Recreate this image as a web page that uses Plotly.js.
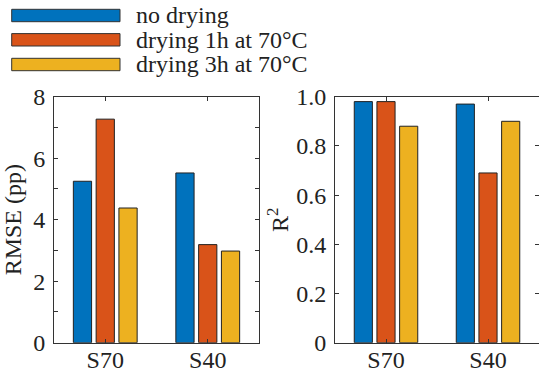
<!DOCTYPE html>
<html>
<head>
<meta charset="utf-8">
<script src="https://cdn.plot.ly/plotly-3.0.1.min.js"></script>
<style>html,body{margin:0;padding:0;background:#fff;}#chart{width:539px;height:372px;}</style>
</head>
<body>
<div id="chart"></div>
<script>
// ---- data ----
var categories = ['S70', 'S40'];
var seriesNames = ['no drying', 'drying 1h at 70°C', 'drying 3h at 70°C'];
var seriesColors = ['#0072BD', '#D95319', '#EDB120'];
var rmseNoDrying = [5.25, 5.52];
var rmseDry1h = [7.27, 3.19];
var rmseDry3h = [4.38, 2.98];
var r2NoDrying = [0.98, 0.97];
var r2Dry1h = [0.98, 0.69];
var r2Dry3h = [0.88, 0.90];
var rmseTicks = [0, 2, 4, 6, 8];
var r2TickVals = [0, 0.2, 0.4, 0.6, 0.8, 1.0];
var r2TickText = ['0', '0.2', '0.4', '0.6', '0.8', '1.0'];

var W = 539, H = 372;
var FONT = 'Liberation Serif';
var AX = '#333333';

var rmseSeries = [rmseNoDrying, rmseDry1h, rmseDry3h];
var r2Series = [r2NoDrying, r2Dry1h, r2Dry3h];

var traces = [];
rmseSeries.forEach(function (vals, i) {
  traces.push({type: 'bar', x: categories, y: vals, name: seriesNames[i],
    xaxis: 'x', yaxis: 'y', showlegend: false,
    marker: {color: seriesColors[i], line: {color: '#222', width: 1}}});
});
r2Series.forEach(function (vals, i) {
  traces.push({type: 'bar', x: categories, y: vals, name: seriesNames[i],
    xaxis: 'x2', yaxis: 'y2', showlegend: false,
    marker: {color: seriesColors[i], line: {color: '#222', width: 1}}});
});

function xAxis(domain, anchor) {
  return {domain: domain, anchor: anchor, type: 'category', categoryarray: categories,
    range: [-0.5, 1.5], showline: true, linecolor: AX, linewidth: 1, mirror: 'ticks',
    ticks: 'inside', ticklen: 4, tickcolor: AX, showgrid: false, zeroline: false,
    ticklabelstandoff: -5,
    tickfont: {family: FONT, size: 24, color: '#222'}, fixedrange: true};
}
var yDom = [1 - 342.7 / H, 1 - 96.7 / H];

// legend built from series names and colours
var shapes = [], annotations = [];
var rowCenters = [15.5, 39.8, 64.5];
seriesNames.forEach(function (nm, i) {
  var yc = 1 - rowCenters[i] / H, hh = 6.2 / H;
  shapes.push({type: 'rect', xref: 'paper', yref: 'paper', x0: 11.7 / W, x1: 120 / W,
    y0: yc - hh, y1: yc + hh, fillcolor: seriesColors[i], line: {color: '#333', width: 1}});
  annotations.push({xref: 'paper', yref: 'paper', x: 134 / W, y: yc, xanchor: 'left', yanchor: 'middle',
    text: nm, showarrow: false, font: {family: FONT, size: 24, color: '#222'}});
});

var layout = {
  width: W, height: H, margin: {l: 0, r: 0, t: 0, b: 0},
  paper_bgcolor: '#fff', plot_bgcolor: '#fff',
  font: {family: FONT, size: 24, color: '#222'},
  barmode: 'group', bargap: 0.333, bargroupgap: 0.2,
  showlegend: false,
  xaxis: xAxis([54 / W, 259 / W], 'y'),
  xaxis2: xAxis([335 / W, 1], 'y2'),
  yaxis: {domain: yDom, anchor: 'x', range: [0, 8], tickvals: rmseTicks,
    showline: true, linecolor: AX, linewidth: 1, mirror: 'ticks',
    ticks: 'inside', ticklen: 4, tickcolor: AX,
    minor: {dtick: 1, ticks: 'inside', ticklen: 4, tickcolor: AX, showgrid: false},
    showgrid: false, zeroline: false, ticklabelstandoff: 3,
    tickfont: {family: FONT, size: 24, color: '#222'},
    title: {text: 'RMSE (pp)', font: {family: FONT, size: 24, color: '#222'}, standoff: 6},
    fixedrange: true},
  yaxis2: {domain: yDom, anchor: 'x2', range: [0, 1], tickvals: r2TickVals, ticktext: r2TickText,
    showline: true, linecolor: AX, linewidth: 1, mirror: 'ticks',
    ticks: 'inside', ticklen: 4, tickcolor: AX,
    showgrid: false, zeroline: false, ticklabelstandoff: 3,
    tickfont: {family: FONT, size: 24, color: '#222'},
    title: {text: 'R<sup>2</sup>', font: {family: FONT, size: 24, color: '#222'}, standoff: 0},
    fixedrange: true},
  shapes: shapes,
  annotations: annotations
};

Plotly.newPlot('chart', traces, layout, {displayModeBar: false, staticPlot: true});
</script>
</body>
</html>
